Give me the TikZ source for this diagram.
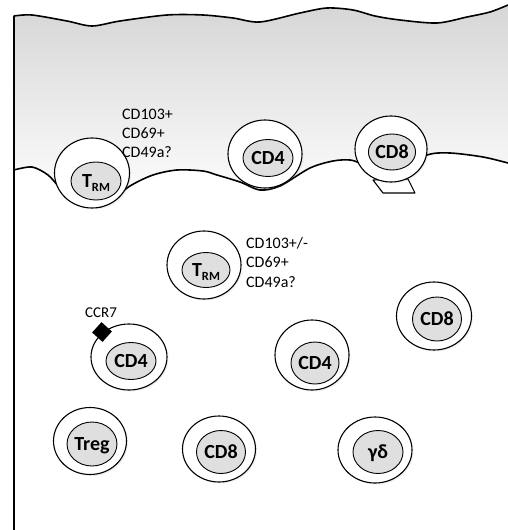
\documentclass[tikz,border=0pt]{standalone}
\usepackage{fontspec}
\setmainfont{Carlito}
\usetikzlibrary{shapes.geometric,shadows}

\tikzset{
  cellout/.style={ellipse, draw=black, line width=1.1pt, fill=white, inner sep=0pt,
    drop shadow={opacity=0.12, shadow xshift=1.5pt, shadow yshift=-1.5pt}},
  cellin/.style={ellipse, draw=black, line width=0.9pt, fill=gray!25, inner sep=0pt,
    font=\bfseries\fontsize{20}{20}\selectfont, text height=12.6pt, text depth=0pt},
  marker/.style={font=\fontsize{16}{16}\selectfont, anchor=base west, inner sep=0pt},
  wave/.style={line width=1.6pt, line join=round, line cap=round},
  pseudopod/.style={draw=black, line width=1.1pt, fill=white, line join=round}
}
\newcommand{\trmlabel}{T\raisebox{-4.5pt}{\fontsize{12.5}{12.5}\selectfont RM}}

\begin{document}
\begin{tikzpicture}[x=1pt, y=-1pt]
\useasboundingbox (0,0) rectangle (508,530);

% epithelial layer with gradient shading
\fill[top color=gray!32, bottom color=white]
  plot[smooth] coordinates {(14,16) (32,15) (67,21) (92,26) (120,21) (167,15) (203,15)
    (233,18) (260,22) (300,13) (327,8) (353,10) (375,16) (400,20) (437,23) (467,17) (490,12) (508,5)}
  -- (508,163)
  -- plot[smooth] coordinates {(508,163) (483,157) (450,153) (427,155) (400,170) (372,170)
    (362,164) (350,160) (333,161) (310,168) (280,186) (260,190) (240,182) (217,175)
    (203,171) (177,170) (153,175) (130,186) (100,207) (72,199) (60,188) (48,175) (32,167) (14,170)}
  -- cycle;

% upper boundary of the layer
\draw[wave] plot[smooth] coordinates {(14,16) (32,15) (67,21) (92,26) (120,21) (167,15) (203,15)
    (233,18) (260,22) (300,13) (327,8) (353,10) (375,16) (400,20) (437,23) (467,17) (490,12) (508,5)};
% lower boundary (basement side)
\draw[wave] plot[smooth] coordinates {(14,170) (32,167) (48,175) (60,188) (72,199) (100,207)
    (130,186) (153,175) (177,170) (203,171) (217,175) (240,182) (260,190) (280,186) (310,168)
    (333,161) (350,160) (362,164) (372,170) (400,170) (427,155) (450,153) (483,157) (508,163)};
% left border of the tissue
\coordinate (lt) at (14,16);
\coordinate (lb) at (14,530);
\draw[line width=1.6pt] (lt) -- (lb);

% pseudopod of the intraepithelial CD8 cell
\coordinate (p1) at (373,180);
\coordinate (p2) at (408,179);
\coordinate (p3) at (415,193);
\coordinate (p4) at (383,193);
\draw[pseudopod] (p1) -- (p2) -- (p3) -- (p4) -- cycle;

% cells inside the epithelium
\node[cellout, minimum width=75pt, minimum height=70pt] (trmA) at (92,173) {};
\node[cellin, minimum width=50pt, minimum height=38pt] (trmAi) at (96,181) {\trmlabel};
\node[cellout, minimum width=74pt, minimum height=68pt] (cd4A) at (265,154) {};
\node[cellin, minimum width=50pt, minimum height=37pt] (cd4Ai) at (268,158) {CD4};
\node[cellout, minimum width=72pt, minimum height=66pt] (cd8A) at (391,149) {};
\node[cellin, minimum width=47pt, minimum height=36pt] (cd8Ai) at (392,152) {CD8};

\node[marker] (mA1) at (122,119) {CD103+};
\node[marker] (mA2) at (122,138) {CD69+};
\node[marker] (mA3) at (122,157) {CD49a?};

% cells in the lamina propria
\node[cellout, minimum width=74pt, minimum height=68pt] (trmB) at (204,265) {};
\node[cellin, minimum width=48pt, minimum height=35pt] (trmBi) at (206,270) {\trmlabel};
\node[marker] (mB1) at (246,248) {CD103+/-};
\node[marker] (mB2) at (246,267) {CD69+};
\node[marker] (mB3) at (246,287) {CD49a?};

\node[cellout, minimum width=76pt, minimum height=66pt] (cd4B) at (129,357) {};
\node[cellin, minimum width=50pt, minimum height=37pt] (cd4Bi) at (131,361) {CD4};
\node[fill=black, rotate=48, minimum size=14pt, inner sep=0pt] (ccr7) at (102,332) {};
\node[font=\fontsize{15}{15}\selectfont, anchor=base, inner sep=0pt] (ccr7l) at (101,317) {CCR7};

\node[cellout, minimum width=74pt, minimum height=70pt] (cd4C) at (312,355) {};
\node[cellin, minimum width=48pt, minimum height=42pt] (cd4Ci) at (315,363) {CD4};

\node[cellout, minimum width=75pt, minimum height=68pt] (cd8B) at (434,316) {};
\node[cellin, minimum width=49pt, minimum height=44pt] (cd8Bi) at (437,319) {CD8};

\node[cellout, minimum width=73pt, minimum height=67pt] (treg) at (90,441) {};
\node[cellin, minimum width=49pt, minimum height=44pt] (tregi) at (92,444) {Treg};

\node[cellout, minimum width=73pt, minimum height=66pt] (cd8C) at (219,449) {};
\node[cellin, minimum width=49pt, minimum height=43pt] (cd8Ci) at (221,452) {CD8};

\node[cellout, minimum width=74pt, minimum height=66pt] (gd) at (375,450) {};
\node[cellin, minimum width=50pt, minimum height=43pt] (gdi) at (378,452) {γδ};
\end{tikzpicture}
\end{document}
